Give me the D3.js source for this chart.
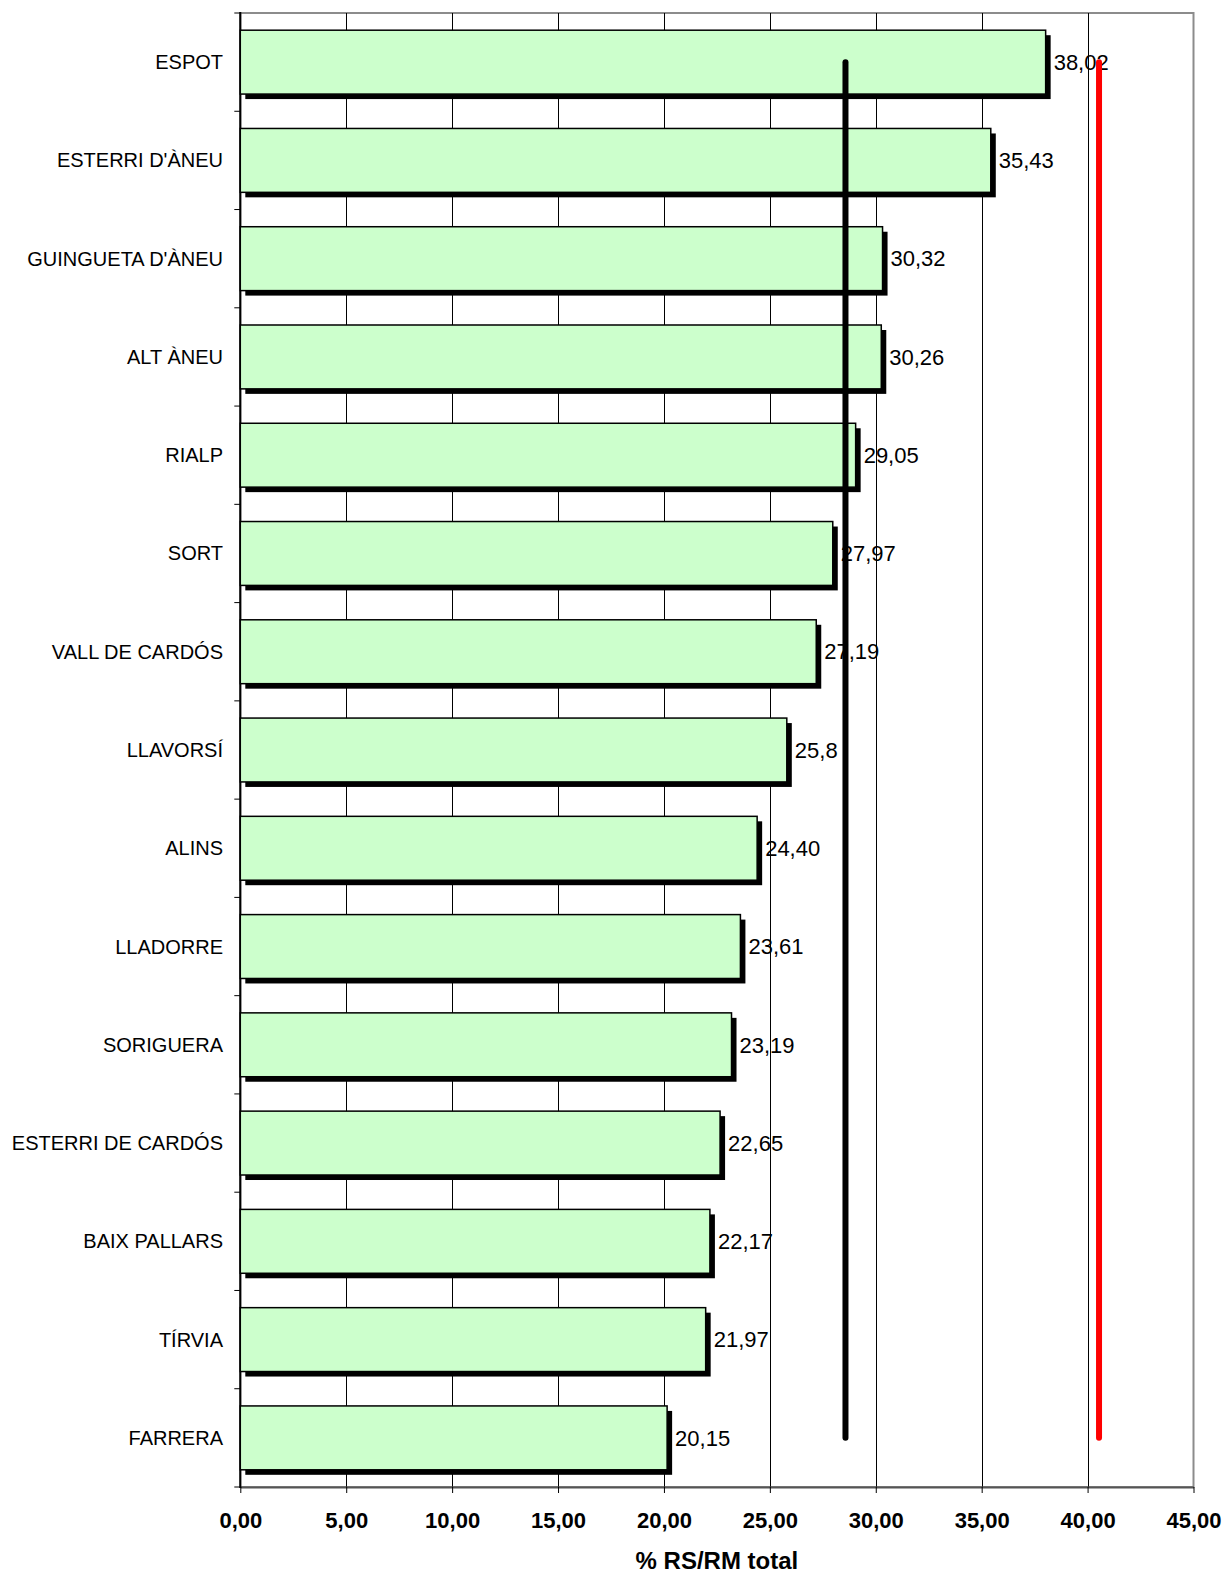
<!DOCTYPE html>
<html><head><meta charset="utf-8">
<script src="https://cdn.jsdelivr.net/npm/d3@7"></script>
<style>body{margin:0;background:#fff}svg{display:block}text{font-family:"Liberation Sans",Arial,sans-serif}</style>
</head><body>
<script>
const categories = ["ESPOT","ESTERRI D'ÀNEU","GUINGUETA D'ÀNEU","ALT ÀNEU","RIALP","SORT","VALL DE CARDÓS","LLAVORSÍ","ALINS","LLADORRE","SORIGUERA","ESTERRI DE CARDÓS","BAIX PALLARS","TÍRVIA","FARRERA"];
const values = [38.02,35.43,30.32,30.26,29.05,27.97,27.19,25.80,24.40,23.61,23.19,22.65,22.17,21.97,20.15];
const valueLabels = ["38,02","35,43","30,32","30,26","29,05","27,97","27,19","25,8","24,40","23,61","23,19","22,65","22,17","21,97","20,15"];
const tickValues = [0,5,10,15,20,25,30,35,40,45];
const tickLabels = ["0,00","5,00","10,00","15,00","20,00","25,00","30,00","35,00","40,00","45,00"];
const refLines = [{value:28.57,color:"#000"},{value:40.54,color:"#ff0000"}];
const axisTitle = "% RS/RM total";

const W=1226,H=1575;
const m={left:240.3,right:1193.5,top:13,bottom:1487};
const svg=d3.select("body").append("svg").attr("width",W).attr("height",H);
const x=d3.scaleLinear().domain([0,45]).range([m.left,m.right]);
const y=d3.scaleBand().domain(categories).range([m.top,m.bottom]).paddingInner(0.35).paddingOuter(0.175);

// plot border (gray)
svg.append("rect").attr("x",m.left).attr("y",m.top).attr("width",m.right-m.left).attr("height",m.bottom-m.top)
  .attr("fill","none").attr("stroke","#8c8c8c").attr("stroke-width",2);

// gridlines
svg.append("g").selectAll("line").data(tickValues.filter(v=>v>0&&v<45)).join("line")
  .attr("x1",d=>Math.round(x(d))+0.5).attr("x2",d=>Math.round(x(d))+0.5)
  .attr("y1",m.top).attr("y2",m.bottom).attr("stroke","#000").attr("stroke-width",1);

// bottom axis
const xAxis=d3.axisBottom(x).tickValues(tickValues).tickFormat((d,i)=>tickLabels[i]).tickSize(6).tickSizeOuter(0);
const gx=svg.append("g").attr("transform",`translate(0,${m.bottom})`).call(xAxis);
gx.select(".domain").attr("stroke","#555").attr("stroke-width",2);
gx.selectAll(".tick line").attr("stroke","#000");
gx.selectAll(".tick text").attr("font-size",22).attr("font-weight","bold").attr("fill","#000").attr("y",null).attr("dy",null)
  .attr("transform","translate(0,41)").attr("font-family","Liberation Sans, Arial, sans-serif");

// left axis line + ticks at band boundaries
svg.append("line").attr("x1",m.left).attr("x2",m.left).attr("y1",m.top-1).attr("y2",m.bottom+1).attr("stroke","#000").attr("stroke-width",2);
const bounds=d3.range(categories.length+1).map(i=>m.top+i*y.step());
svg.append("g").selectAll("line").data(bounds).join("line")
  .attr("x1",m.left-6).attr("x2",m.left).attr("y1",d=>d).attr("y2",d=>d).attr("stroke","#000").attr("stroke-width",1);

// category labels
svg.append("g").selectAll("text").data(categories).join("text")
  .attr("x",223).attr("y",d=>y(d)+y.bandwidth()/2).attr("dy","0.35em").attr("text-anchor","end")
  .attr("font-size",20).attr("fill","#000").text(d=>d);

// bars: shadow then bar
const bars=svg.append("g");
bars.selectAll("rect.shadow").data(values).join("rect").attr("class","shadow")
  .attr("x",x(0)+5).attr("y",(d,i)=>y(categories[i])+5).attr("width",d=>x(d)-x(0)).attr("height",y.bandwidth())
  .attr("fill","#000");
bars.selectAll("rect.bar").data(values).join("rect").attr("class","bar")
  .attr("x",x(0)).attr("y",(d,i)=>y(categories[i])).attr("width",d=>x(d)-x(0)).attr("height",y.bandwidth())
  .attr("fill","#ccffcc").attr("stroke","#000").attr("stroke-width",1.5);

// value labels
svg.append("g").selectAll("text").data(values).join("text")
  .attr("x",d=>x(d)+8).attr("y",(d,i)=>y(categories[i])+y.bandwidth()/2).attr("dy","0.35em")
  .attr("font-size",22).attr("fill","#000").text((d,i)=>valueLabels[i]);

// reference lines
const yTop=y(categories[0])+y.bandwidth()/2, yBot=y(categories[categories.length-1])+y.bandwidth()/2;
svg.append("g").selectAll("line").data(refLines).join("line")
  .attr("x1",d=>x(d.value)).attr("x2",d=>x(d.value)).attr("y1",yTop).attr("y2",yBot)
  .attr("stroke",d=>d.color).attr("stroke-width",6).attr("stroke-linecap","round");

// axis title
svg.append("text").attr("x",(m.left+m.right)/2).attr("y",1569).attr("text-anchor","middle")
  .attr("font-size",24).attr("font-weight","bold").attr("fill","#000").text(axisTitle);
</script>
</body></html>
